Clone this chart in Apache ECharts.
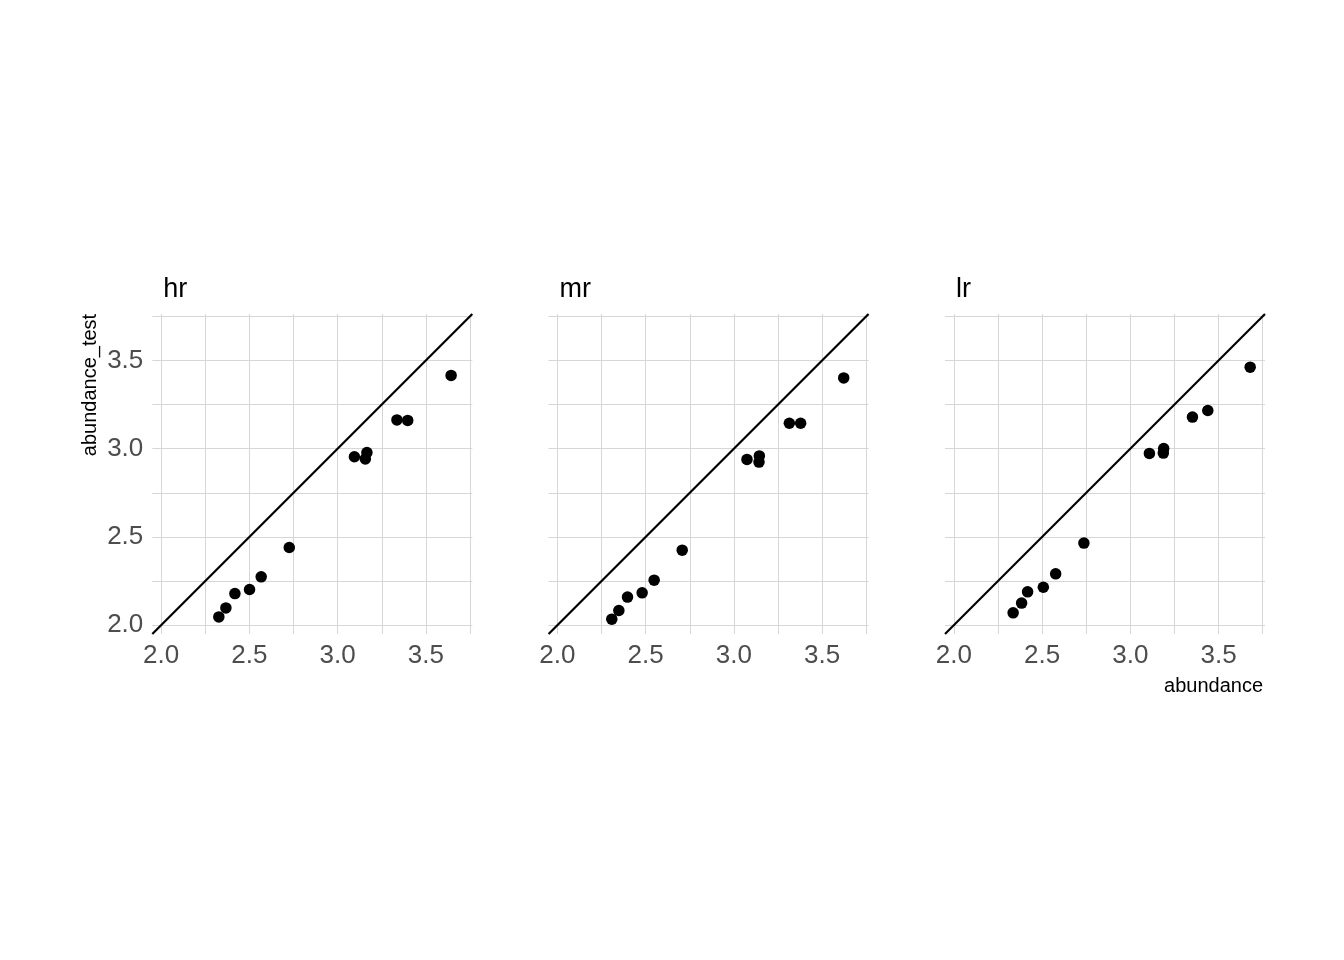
<!DOCTYPE html>
<html>
<head>
<meta charset="utf-8">
<script src="https://cdn.jsdelivr.net/npm/echarts@6/dist/echarts.min.js"></script>
<style>
  html, body { margin: 0; padding: 0; background: #ffffff; }
  #chart { width: 1344px; height: 960px; }
</style>
</head>
<body>
<div id="chart"></div>
<script>
// ---- data ----
const panels = ['hr', 'mr', 'lr'];

const hrX = [2.327, 2.367, 2.418, 2.501, 2.567, 2.726, 3.095, 3.157, 3.166, 3.336, 3.397, 3.643];
const hrY = [2.047, 2.098, 2.179, 2.202, 2.274, 2.440, 2.954, 2.942, 2.978, 3.163, 3.160, 3.415];

const mrX = [2.308, 2.348, 2.397, 2.480, 2.548, 2.707, 3.074, 3.142, 3.144, 3.314, 3.378, 3.622];
const mrY = [2.034, 2.083, 2.159, 2.183, 2.255, 2.425, 2.939, 2.924, 2.959, 3.144, 3.144, 3.401];

const lrX = [2.336, 2.384, 2.418, 2.507, 2.577, 2.737, 3.108, 3.187, 3.189, 3.352, 3.439, 3.679];
const lrY = [2.070, 2.125, 2.189, 2.215, 2.291, 2.465, 2.973, 2.975, 3.001, 3.179, 3.216, 3.462];

const gridValues = [2.0, 2.25, 2.5, 2.75, 3.0, 3.25, 3.5, 3.75];
const tickLabels = [2.0, 2.5, 3.0, 3.5];
const identityLine = [1.95, 3.763];   // y = x reference line end points

const xName = 'abundance';
const yName = 'abundance_test';

// ---- build chart ----
const seriesX = [hrX, mrX, lrX];
const seriesY = [hrY, mrY, lrY];
const FONT = '"Liberation Sans Narrow", "Liberation Sans", Arial, sans-serif';
const lefts = [152.3, 548.6, 945];
const gridTop = 314, gridSize = 320;
const gridColor = '#d6d6d6';

const grids = [], xAxes = [], yAxes = [], series = [], titles = [];

panels.forEach((name, i) => {
  grids.push({ left: lefts[i], top: gridTop, width: gridSize, height: gridSize, containLabel: false });
  titles.push({
    text: name, left: lefts[i] + 11, top: 276,
    textStyle: { fontFamily: FONT, fontSize: 27, fontWeight: 'normal', color: '#000000' },
    padding: 0
  });
  const axisCommon = {
    type: 'value', gridIndex: i,
    min: identityLine[0], max: identityLine[1],
    axisLine: { show: false },
    axisTick: { show: false, customValues: gridValues },
    splitLine: { show: true, lineStyle: { color: gridColor, width: 1 } },
    minorSplitLine: { show: false }
  };
  xAxes.push(Object.assign({}, axisCommon, {
    axisLabel: {
      show: true, customValues: tickLabels, margin: 9,
      fontFamily: FONT, fontSize: 26, color: '#4d4d4d',
      formatter: v => Number(v).toFixed(1)
    }
  }));
  yAxes.push(Object.assign({}, axisCommon, {
    axisLabel: {
      show: i === 0, customValues: tickLabels, margin: 9,
      fontFamily: FONT, fontSize: 26, color: '#4d4d4d',
      formatter: v => Number(v).toFixed(1)
    }
  }));
  series.push({
    type: 'line', xAxisIndex: i, yAxisIndex: i,
    data: [[identityLine[0], identityLine[0]], [identityLine[1], identityLine[1]]],
    showSymbol: false, symbol: 'none', silent: true, animation: false,
    lineStyle: { color: '#000000', width: 2.2 }, clip: true, z: 2
  });
  series.push({
    type: 'scatter', xAxisIndex: i, yAxisIndex: i,
    data: seriesX[i].map((x, k) => [x, seriesY[i][k]]),
    symbol: 'circle', symbolSize: 11.5, animation: false,
    itemStyle: { color: '#000000', opacity: 1 }, z: 3
  });
});

const chart = echarts.init(document.getElementById('chart'), null, { renderer: 'canvas' });
chart.setOption({
  backgroundColor: '#ffffff',
  animation: false,
  title: titles,
  grid: grids,
  xAxis: xAxes,
  yAxis: yAxes,
  series: series,
  graphic: [
    {
      type: 'text', x: 90, y: 385, rotation: Math.PI / 2,
      style: { text: yName, fontFamily: FONT, fontSize: 20, fill: '#000000', align: 'center', verticalAlign: 'middle' }
    },
    {
      type: 'text', x: 1263, y: 686,
      style: { text: xName, fontFamily: FONT, fontSize: 20, fill: '#000000', align: 'right', verticalAlign: 'middle' }
    }
  ]
});
</script>
</body>
</html>
